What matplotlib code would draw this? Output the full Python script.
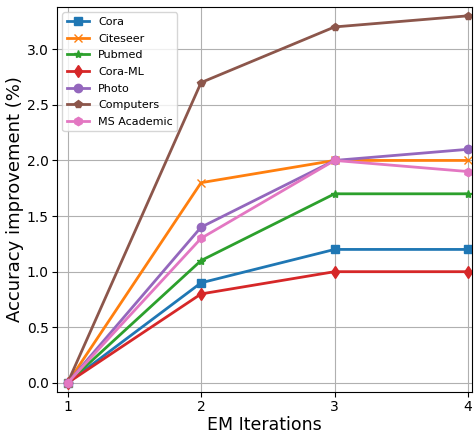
import numpy as np
import matplotlib
matplotlib.use("Agg")
import matplotlib.pyplot as plt

iterations = [1, 2, 3, 4]
names = ["Cora", "Citeseer", "Pubmed", "Cora-ML", "Photo", "Computers", "MS Academic"]
cora = [0.0, 0.9, 1.2, 1.2]
citeseer = [0.0, 1.8, 2.0, 2.0]
pubmed = [0.0, 1.1, 1.7, 1.7]
cora_ml = [0.0, 0.8, 1.0, 1.0]
photo = [0.0, 1.4, 2.0, 2.1]
computers = [0.0, 2.7, 3.2, 3.3]
ms_academic = [0.0, 1.3, 2.0, 1.9]

series = [cora, citeseer, pubmed, cora_ml, photo, computers, ms_academic]
markers = ["s", "x", "*", "d", "o", "p", "h"]
colors = ["#1f77b4", "#ff7f0e", "#2ca02c", "#d62728", "#9467bd", "#8c564b", "#e377c2"]

fig = plt.figure(figsize=(4.74, 4.32), dpi=100)
ax = fig.add_axes([0.120, 0.093, 0.876, 0.891])
for name, vals, m, c in zip(names, series, markers, colors):
    ax.plot(iterations, vals, marker=m, color=c, lw=2, ms=6, label=name)

ax.set_xlim(0.92, 4.03)
ax.set_ylim(-0.08, 3.38)
ax.set_xticks(iterations)
ax.set_yticks(np.arange(0, 3.01, 0.5))
ax.tick_params(labelsize=10, pad=2.5)
ax.grid(True, color="#b0b0b0", lw=0.8)
ax.set_xlabel("EM Iterations", fontsize=12.5, labelpad=1)
ax.set_ylabel("Accuracy improvement (%)", fontsize=13, labelpad=2)
ax.legend(loc="upper left", fontsize=8, labelspacing=0.6)
fig.savefig("out.png", dpi=100)
